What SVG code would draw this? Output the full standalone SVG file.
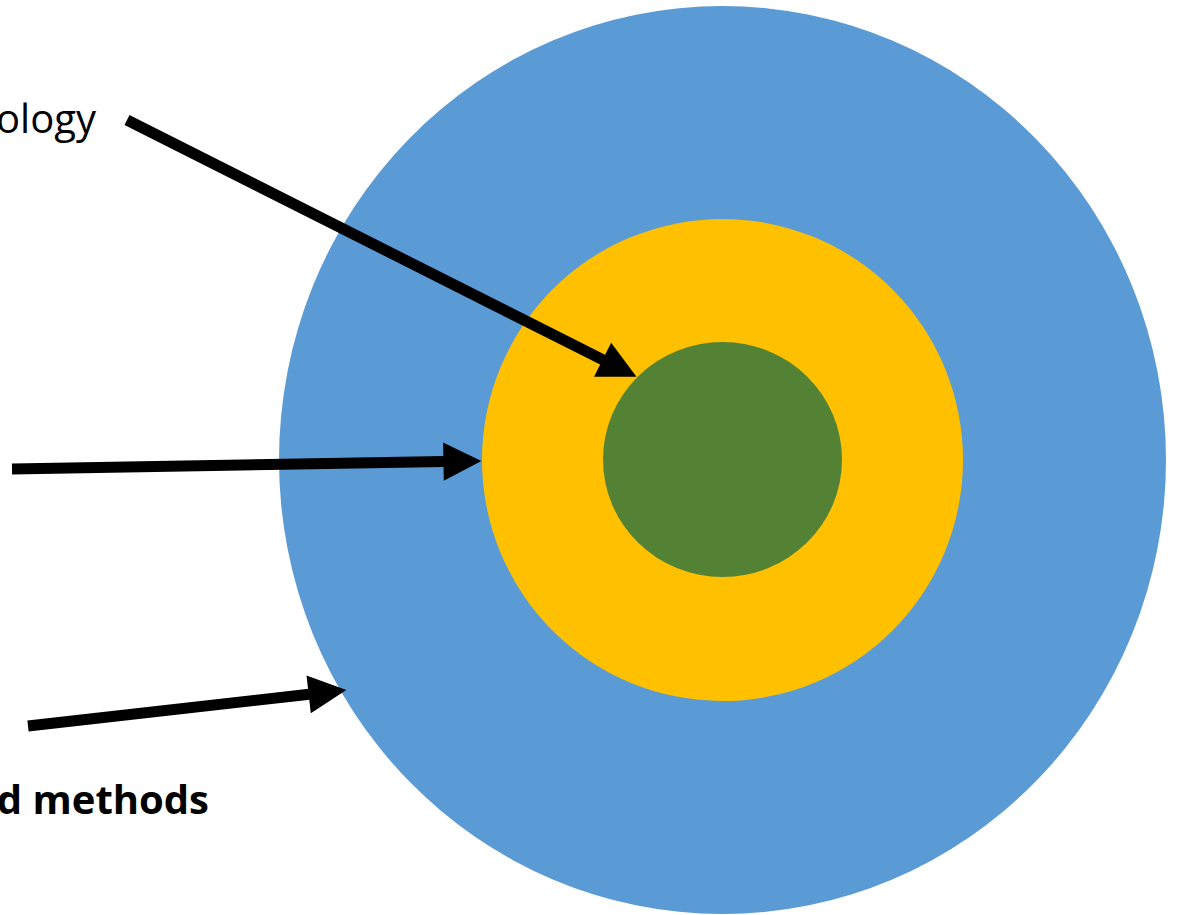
<svg xmlns="http://www.w3.org/2000/svg" width="1178" height="915" viewBox="0 0 1178 915">
<style>
.lbl{font-family:"Open Sans","Liberation Sans",sans-serif;font-size:40px;fill:#000}
.b{font-weight:bold}
.arr{stroke:#000;stroke-width:11;fill:none;marker-end:url(#ah)}
</style>
<defs>
<marker id="ah" markerUnits="strokeWidth" markerWidth="4" markerHeight="4" refX="0.05" refY="1.73" orient="auto" overflow="visible">
<path d="M0,0 L3.45,1.73 L0,3.46 Z" fill="#000"/>
</marker>
</defs>
<rect width="1178" height="915" fill="#fff"/>
<g id="outer"><ellipse cx="722.5" cy="460" rx="443.5" ry="454" fill="#5B9BD5"/></g>
<g id="middle"><ellipse cx="722.5" cy="460" rx="240.5" ry="241" fill="#FFC000"/></g>
<g id="inner"><ellipse cx="722.5" cy="459.5" rx="119.5" ry="117.5" fill="#548235"/></g>
<g id="label1"><text class="lbl" x="96" y="133" text-anchor="end">ology</text></g>
<g id="label3"><text class="lbl b" x="209" y="814" text-anchor="end">d methods</text></g>
<g id="connectors">
<line class="arr" x1="127" y1="120" x2="603.1" y2="359.9"/>
<line class="arr" x1="12" y1="469" x2="444" y2="461.6"/>
<line class="arr" x1="28" y1="726" x2="309.2" y2="694.3"/>
</g>
</svg>
